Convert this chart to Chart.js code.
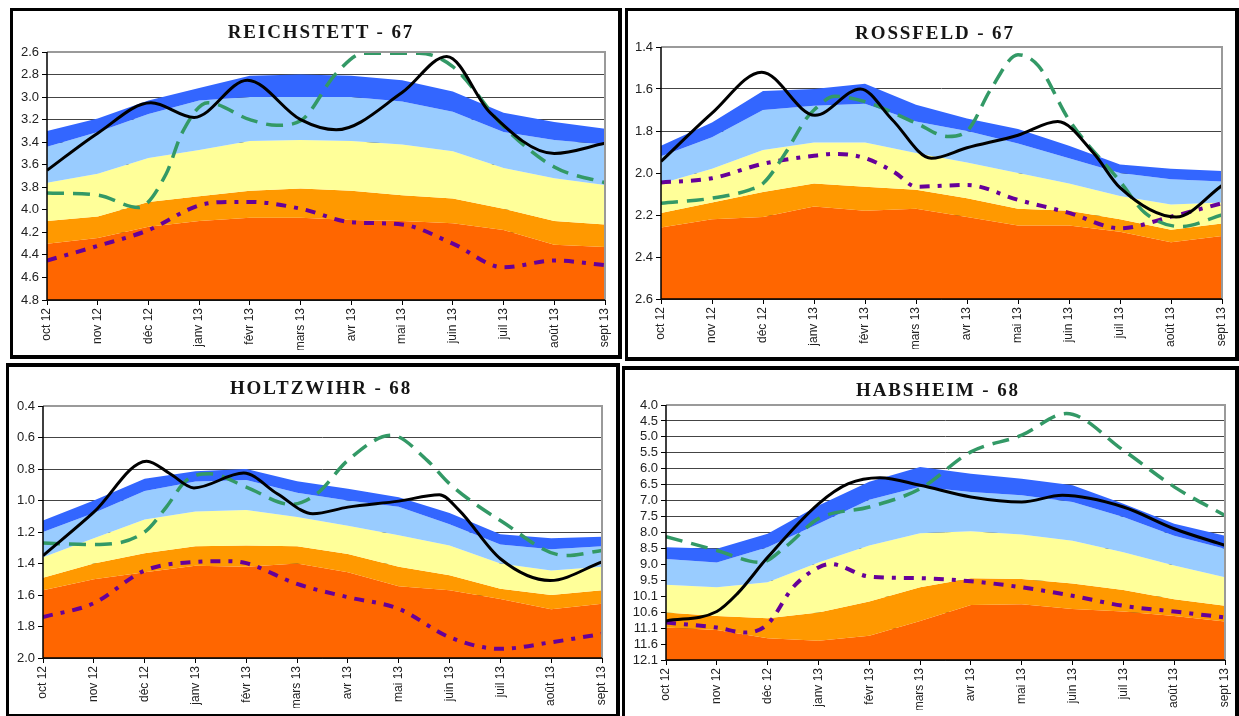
<!DOCTYPE html>
<html>
<head>
<meta charset="utf-8">
<script src="https://cdn.jsdelivr.net/npm/chart.js@4"></script>
<style>
  html, body { margin: 0; padding: 0; background: #fff; width: 1239px; height: 716px; overflow: hidden; }
  .panel { position: absolute; box-sizing: border-box; border: 0 solid #000; background: #fff; }
  .title { position: absolute; font-family: "Liberation Serif", "Times New Roman", serif; font-weight: bold;
           font-size: 19px; letter-spacing: 1.9px; color: #151515; white-space: nowrap; transform: translate(-50%, -50%); }
  canvas { position: absolute; }
</style>
</head>
<body>
<script>
// Months of the hydrological year
const months = ['oct 12', 'nov 12', 'déc 12', 'janv 13', 'févr 13', 'mars 13', 'avr 13', 'mai 13', 'juin 13', 'juil 13', 'août 13', 'sept 13'];

// ---- REICHSTETT - 67 ----
const reichTicks = ['2.6', '2.8', '3.0', '3.2', '3.4', '3.6', '3.8', '4.0', '4.2', '4.4', '4.6', '4.8'];
const reichLimit1 = [3.30, 3.19, 3.03, 2.92, 2.81, 2.80, 2.81, 2.85, 2.95, 3.14, 3.22, 3.28];
const reichLimit2 = [3.44, 3.31, 3.15, 3.03, 3.00, 3.00, 3.00, 3.04, 3.13, 3.31, 3.38, 3.42];
const reichLimit3 = [3.76, 3.68, 3.54, 3.47, 3.39, 3.38, 3.39, 3.42, 3.48, 3.63, 3.72, 3.78];
const reichLimit4 = [4.10, 4.06, 3.93, 3.88, 3.83, 3.81, 3.83, 3.87, 3.90, 3.99, 4.10, 4.13];
const reichLimit5 = [4.30, 4.25, 4.15, 4.10, 4.07, 4.07, 4.09, 4.10, 4.12, 4.18, 4.31, 4.33];
const reichSolid = [[0, 3.65], [1, 3.32], [2.05, 3.05], [2.9, 3.18], [3.95, 2.85], [5, 3.20], [5.7, 3.29], [7, 2.96], [7.88, 2.64], [8.74, 3.14], [10, 3.50], [11, 3.41]];
const reichDashed = [[0, 3.85], [1, 3.87], [1.8, 3.98], [2.35, 3.68], [2.66, 3.32], [3.17, 3.05], [4, 3.20], [4.53, 3.25], [5, 3.21], [5.7, 2.79], [6.25, 2.61], [7.34, 2.61], [8, 2.73], [9, 3.26], [10, 3.62], [11, 3.76]];
const reichDashDot = [[0, 4.45], [1, 4.32], [2, 4.18], [3, 3.96], [3.68, 3.93], [4, 3.93], [5, 3.99], [6, 4.11], [7, 4.13], [8, 4.30], [9, 4.51], [10, 4.45], [11, 4.49]];

// ---- ROSSFELD - 67 ----
const rossTicks = ['1.4', '1.6', '1.8', '2.0', '2.2', '2.4', '2.6'];
const rossLimit1 = [1.87, 1.76, 1.61, 1.60, 1.575, 1.675, 1.74, 1.79, 1.87, 1.96, 1.98, 1.99];
const rossLimit2 = [1.92, 1.83, 1.70, 1.68, 1.67, 1.755, 1.80, 1.86, 1.93, 2.00, 2.03, 2.04];
const rossLimit3 = [2.05, 1.98, 1.89, 1.855, 1.855, 1.905, 1.95, 2.00, 2.05, 2.11, 2.15, 2.14];
const rossLimit4 = [2.19, 2.14, 2.09, 2.05, 2.065, 2.08, 2.12, 2.17, 2.18, 2.22, 2.27, 2.24];
const rossLimit5 = [2.26, 2.22, 2.21, 2.16, 2.18, 2.17, 2.21, 2.25, 2.25, 2.28, 2.33, 2.30];
const rossSolid = [[0, 1.945], [1, 1.715], [1.975, 1.52], [3.02, 1.725], [3.91, 1.60], [4.53, 1.745], [5.3, 1.93], [6, 1.88], [7, 1.82], [7.78, 1.755], [8.48, 1.905], [9, 2.07], [10.1, 2.21], [11, 2.06]];
const rossDashed = [[0, 2.144], [1, 2.12], [1.74, 2.08], [2, 2.05], [2.44, 1.905], [2.83, 1.747], [3, 1.70], [3.41, 1.635], [4, 1.66], [5, 1.762], [5.62, 1.826], [6, 1.80], [6.47, 1.60], [7, 1.437], [7.4, 1.49], [8, 1.747], [9, 2.04], [9.49, 2.19], [10.19, 2.255], [11, 2.20]];
const rossDashDot = [[0, 2.045], [1, 2.025], [2, 1.956], [3, 1.918], [3.41, 1.909], [4, 1.929], [4.6, 2.0], [5, 2.065], [6, 2.057], [7, 2.128], [8, 2.19], [9, 2.263], [10, 2.208], [11, 2.144]];

// ---- HOLTZWIHR - 68 ----
const holtzTicks = ['0.4', '0.6', '0.8', '1.0', '1.2', '1.4', '1.6', '1.8', '2.0'];
const holtzLimit1 = [1.127, 1.0, 0.862, 0.815, 0.80, 0.877, 0.925, 0.98, 1.08, 1.215, 1.24, 1.23];
const holtzLimit2 = [1.20, 1.08, 0.94, 0.88, 0.87, 0.95, 1.0, 1.04, 1.15, 1.28, 1.31, 1.29];
const holtzLimit3 = [1.36, 1.24, 1.12, 1.07, 1.06, 1.105, 1.16, 1.22, 1.285, 1.40, 1.445, 1.42];
const holtzLimit4 = [1.49, 1.40, 1.335, 1.29, 1.285, 1.29, 1.34, 1.42, 1.475, 1.56, 1.60, 1.57];
const holtzLimit5 = [1.57, 1.50, 1.455, 1.415, 1.42, 1.40, 1.455, 1.545, 1.57, 1.625, 1.69, 1.655];
const holtzSolid = [[0, 1.35], [1, 1.074], [2.04, 0.75], [2.5, 0.83], [2.97, 0.92], [3.95, 0.826], [4.61, 0.957], [5.31, 1.084], [6, 1.042], [7, 1.004], [7.8, 0.964], [8.19, 1.063], [9, 1.37], [9.98, 1.508], [11, 1.39]];
const holtzDashed = [[0, 1.27], [1, 1.28], [2, 1.2], [2.43, 1.04], [2.82, 0.872], [3.28, 0.83], [4, 0.915], [4.88, 1.025], [5.39, 0.957], [6, 0.745], [6.86, 0.586], [7.56, 0.745], [8, 0.894], [9, 1.127], [10.29, 1.35], [11, 1.317]];
const holtzDashDot = [[0, 1.74], [1, 1.652], [2, 1.445], [3, 1.39], [3.67, 1.385], [4, 1.398], [5, 1.53], [6, 1.614], [7, 1.688], [8, 1.868], [9, 1.942], [10, 1.9], [11, 1.847]];

// ---- HABSHEIM - 68 ----
const habsTicks = ['4.0', '4.5', '5.0', '5.5', '6.0', '6.5', '7.0', '7.5', '8.0', '8.5', '9.0', '9.5', '10.1', '10.6', '11.1', '11.6', '12.1'];
const habsLimit1 = [8.52, 8.57, 8.09, 7.19, 6.44, 5.97, 6.18, 6.34, 6.55, 7.14, 7.77, 8.15];
const habsLimit2 = [8.89, 9.0, 8.52, 7.77, 7.01, 6.60, 6.76, 6.87, 7.08, 7.56, 8.15, 8.57];
const habsLimit3 = [9.71, 9.79, 9.63, 9.0, 8.46, 8.07, 8.01, 8.11, 8.31, 8.68, 9.10, 9.47];
const habsLimit4 = [10.59, 10.70, 10.77, 10.59, 10.24, 9.79, 9.50, 9.53, 9.67, 9.88, 10.17, 10.38];
const habsLimit5 = [11.07, 11.15, 11.41, 11.49, 11.33, 10.86, 10.35, 10.33, 10.48, 10.56, 10.70, 10.88];
const habsSolid = [[0, 10.86], [1, 10.56], [1.4, 10.0], [2, 8.84], [3, 7.14], [3.59, 6.50], [4.21, 6.31], [5, 6.55], [6, 6.92], [7, 7.08], [7.8, 6.87], [9, 7.24], [10, 7.93], [11, 8.46]];
const habsDashed = [[0, 8.18], [1, 8.62], [1.87, 9.0], [2.34, 8.52], [3, 7.61], [4, 7.24], [5, 6.66], [6, 5.49], [7, 4.96], [7.88, 4.27], [9, 5.44], [10, 6.60], [11, 7.51]];
const habsDashDot = [[0, 10.91], [1, 11.07], [1.56, 11.23], [2, 10.96], [2.5, 9.79], [3, 9.16], [3.24, 9.05], [4, 9.45], [5, 9.50], [6, 9.60], [7, 9.79], [8, 10.06], [9, 10.38], [10, 10.56], [11, 10.75]];

// Band colours, from the shallowest class to the deepest
const bandColors = ['#3366ff', '#99ccff', '#ffff99', '#ff9900', '#ff6600'];

// Panel layout: outer box, border widths [top, right, bottom, left], plot area, title centre
const panels = [
  { title: 'REICHSTETT - 67', box: [10, 8, 612, 351], border: [3, 4, 4, 3], area: [47, 52, 605, 300], titlePos: [321, 32],
    ticks: reichTicks, limits: [reichLimit1, reichLimit2, reichLimit3, reichLimit4, reichLimit5],
    solid: reichSolid, dashed: reichDashed, dashDot: reichDashDot },
  { title: 'ROSSFELD - 67', box: [625, 8, 614, 353], border: [3, 4, 4, 3], area: [661, 47, 1222, 299], titlePos: [935, 33],
    ticks: rossTicks, limits: [rossLimit1, rossLimit2, rossLimit3, rossLimit4, rossLimit5],
    solid: rossSolid, dashed: rossDashed, dashDot: rossDashDot },
  { title: 'HOLTZWIHR - 68', box: [6, 363, 614, 354], border: [4, 4, 3, 3], area: [43, 406, 602, 658], titlePos: [321, 388],
    ticks: holtzTicks, limits: [holtzLimit1, holtzLimit2, holtzLimit3, holtzLimit4, holtzLimit5],
    solid: holtzSolid, dashed: holtzDashed, dashDot: holtzDashDot },
  { title: 'HABSHEIM - 68', box: [622, 366, 617, 356], border: [4, 4, 3, 3], area: [666, 405, 1225, 660], titlePos: [938, 390],
    ticks: habsTicks, limits: [habsLimit1, habsLimit2, habsLimit3, habsLimit4, habsLimit5],
    solid: habsSolid, dashed: habsDashed, dashDot: habsDashDot }
];

const X_AXIS_H = 50;
const xTickFont = { family: '"Liberation Sans", Arial, sans-serif', size: 12 };
const yTickFont = { family: '"Liberation Sans", Arial, sans-serif', size: 13 };

// Grey plot-area frame with black value and category axes
const framePlugin = {
  id: 'frame',
  afterDatasetsDraw(chart) {
    const { ctx, chartArea: a } = chart;
    ctx.save();
    ctx.strokeStyle = '#9a9a9a';
    ctx.lineWidth = 2;
    ctx.beginPath();
    ctx.moveTo(a.left, a.top);
    ctx.lineTo(a.right, a.top);
    ctx.lineTo(a.right, a.bottom);
    ctx.stroke();
    ctx.strokeStyle = '#000';
    ctx.lineWidth = 1.5;
    ctx.beginPath();
    ctx.moveTo(a.left, a.top);
    ctx.lineTo(a.left, a.bottom);
    ctx.lineTo(a.right, a.bottom);
    ctx.stroke();
    ctx.restore();
  }
};

function toPoints(pairs) {
  return pairs.map(([x, y]) => ({ x, y }));
}

function buildPanel(p) {
  const [bx, by, bw, bh] = p.box;
  const [bt, br, bb, bl] = p.border;

  const frame = document.createElement('div');
  frame.className = 'panel';
  Object.assign(frame.style, {
    left: bx + 'px', top: by + 'px', width: bw + 'px', height: bh + 'px',
    borderWidth: `${bt}px ${br}px ${bb}px ${bl}px`
  });
  document.body.appendChild(frame);

  // canvas fills the inside of the framed box
  const cx = bx + bl, cy = by + bt, cw = bw - bl - br, ch = bh - bt - bb;
  const canvas = document.createElement('canvas');
  canvas.width = cw;
  canvas.height = ch;
  Object.assign(canvas.style, { left: cx + 'px', top: cy + 'px', width: cw + 'px', height: ch + 'px' });
  document.body.appendChild(canvas);

  const title = document.createElement('div');
  title.className = 'title';
  title.textContent = p.title;
  title.style.left = p.titlePos[0] + 'px';
  title.style.top = p.titlePos[1] + 'px';
  document.body.appendChild(title);

  const [al, at, ar, ab] = p.area;
  // the value axis takes the whole strip left of the plot so its labels are never clipped
  const yAxisW = al - cx;
  const padding = {
    left: 0,
    top: at - cy,
    right: cx + cw - ar,
    bottom: cy + ch - ab - X_AXIS_H
  };

  const yMin = parseFloat(p.ticks[0]);
  const yMax = parseFloat(p.ticks[p.ticks.length - 1]);
  const nTicks = p.ticks.length;

  const bandSets = p.limits.map((vals, i) => ({
    data: vals.map((v, k) => ({ x: k, y: v })),
    borderWidth: 0,
    pointRadius: 0,
    tension: 0,
    backgroundColor: bandColors[i],
    fill: i < p.limits.length - 1 ? '+1' : { value: yMax }
  }));

  const lineBase = { pointRadius: 0, fill: false, cubicInterpolationMode: 'monotone', borderCapStyle: 'butt' };

  new Chart(canvas, {
    type: 'line',
    data: {
      datasets: [
        Object.assign({ data: toPoints(p.solid), borderColor: '#000000', borderWidth: 3 }, lineBase),
        Object.assign({ data: toPoints(p.dashed), borderColor: '#339966', borderWidth: 3.5, borderDash: [17, 9] }, lineBase),
        Object.assign({ data: toPoints(p.dashDot), borderColor: '#660099', borderWidth: 4, borderDash: [10, 8, 4, 8] }, lineBase),
        ...bandSets
      ]
    },
    options: {
      responsive: false,
      animation: false,
      events: [],
      layout: { padding },
      plugins: { legend: { display: false }, tooltip: { enabled: false }, title: { display: false } },
      scales: {
        x: {
          type: 'linear', min: 0, max: months.length - 1,
          afterBuildTicks: s => { s.ticks = months.map((_, i) => ({ value: i })); },
          afterFit: s => { s.height = X_AXIS_H; s.paddingLeft = 0; s.paddingRight = 0; },
          ticks: { callback: (v, i) => months[i], minRotation: 90, maxRotation: 90, autoSkip: false,
                   font: xTickFont, color: '#222', padding: 3 },
          grid: { drawOnChartArea: false, drawTicks: true, tickLength: 5, tickColor: '#000', tickWidth: 1 },
          border: { display: false }
        },
        y: {
          type: 'linear', reverse: true, min: yMin, max: yMax,
          afterBuildTicks: s => { s.ticks = p.ticks.map((_, i) => ({ value: yMin + i * (yMax - yMin) / (nTicks - 1) })); },
          afterFit: s => { s.width = yAxisW; },
          ticks: { callback: (v, i) => p.ticks[i], autoSkip: false, font: yTickFont, color: '#222', padding: 3 },
          grid: { color: '#444', lineWidth: 1, drawTicks: true, tickLength: 5, tickColor: '#000' },
          border: { display: false }
        }
      }
    },
    plugins: [framePlugin]
  });
}

panels.forEach(buildPanel);
</script>
</body>
</html>
